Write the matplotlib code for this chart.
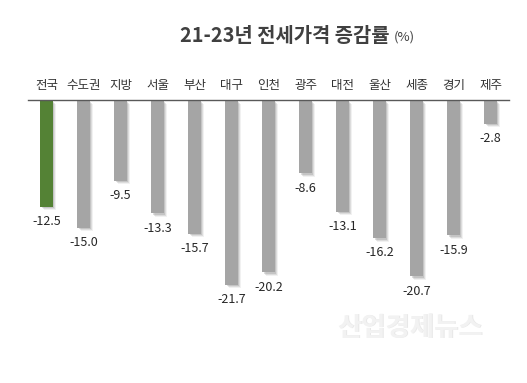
import matplotlib
matplotlib.use("Agg")
import matplotlib.pyplot as plt
from matplotlib import transforms

plt.rcParams['font.family'] = ['Noto Sans CJK KR', 'DejaVu Sans']

categories = ['전국', '수도권', '지방', '서울', '부산', '대구', '인천', '광주', '대전', '울산', '세종', '경기', '제주']
values = [-12.5, -15.0, -9.5, -13.3, -15.7, -21.7, -20.2, -8.6, -13.1, -16.2, -20.7, -15.9, -2.8]
labels = ['-12.5', '-15.0', '-9.5', '-13.3', '-15.7', '-21.7', '-20.2', '-8.6', '-13.1', '-16.2', '-20.7', '-15.9', '-2.8']
title = '21-23년 전세가격 증감률'
unit = '(%)'

W, H = 527, 383
fig = plt.figure(figsize=(W/100, H/100), dpi=100)
fig.patch.set_facecolor('white')
ax = fig.add_axes([28/W, 1-313/H, 481/W, 213/H])
ax.set_xlim(-0.5, 12.5)
ax.set_ylim(-25, 0)
ax.axis('off')

x = list(range(len(categories)))
colors = ['#548235'] + ['#A5A5A5'] * (len(categories) - 1)

# soft shadow
for dx, a in [(3.5, 0.10), (2.5, 0.18), (1.5, 0.25)]:
    t = transforms.offset_copy(ax.transData, fig=fig, x=dx, y=-dx, units='dots')
    ax.bar(x, values, width=0.35, color='#7f7f7f', alpha=a, transform=t, zorder=1)
ax.bar(x, values, width=0.35, color=colors, zorder=2, bottom=0)

# axis line
ax.plot([-0.5, 12.5], [0, 0], color='#595959', lw=1.0, zorder=3, clip_on=False)

for xi, v, lab, cat in zip(x, values, labels, categories):
    ax.text(xi, v - 1.75, lab, ha='center', va='center', fontsize=9, color='#262626')
    ax.text(xi, 1.65, cat, ha='center', va='center', fontsize=9, color='#333333')

fig.text(390/W, 1-35/H, title, ha='right', va='center', fontsize=14.3,
         fontweight='bold', color='#404040')
fig.text(394/W, 1-37/H, unit, ha='left', va='center', fontsize=9.5, color='#404040')

# watermark
fig.text(411/W, 1-329/H, '산업경제뉴스', ha='center', va='center', fontsize=19,
         fontweight='bold', color='#d9d9d9', alpha=0.6)
fig.text(410/W, 1-328/H, '산업경제뉴스', ha='center', va='center', fontsize=19,
         fontweight='bold', color='#f2f2f2')

fig.savefig('out.png', dpi=100, facecolor='white')
